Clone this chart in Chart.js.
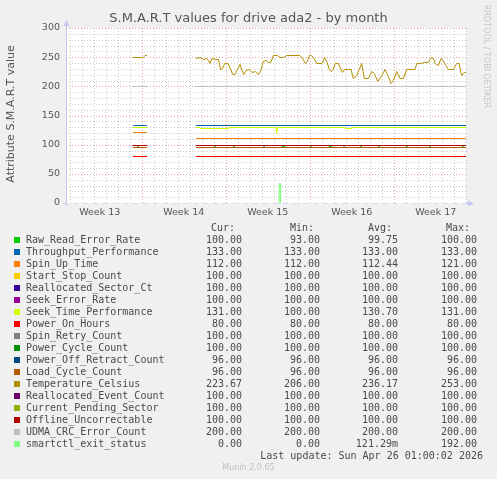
<!DOCTYPE html>
<html>
<head>
<meta charset="utf-8">
<script src="https://cdn.jsdelivr.net/npm/chart.js@4.4.1/dist/chart.umd.min.js"></script>
<style>
  html, body { margin: 0; padding: 0; background: #f0f0f0; }
  #wrap { position: relative; width: 497px; height: 479px; overflow: hidden; font-family: 'DejaVu Sans', sans-serif; }
  #graph { position: absolute; left: 0; top: 0; }
  .title { position: absolute; left: 0; top: 11px; width: 497px; text-align: center; font-size: 13px; line-height: 14px; color: #555; }
  .ytitle { position: absolute; left: -89px; top: 107px; width: 200px; height: 14px; line-height: 14px; text-align: center; font-size: 11px; color: #555; transform: rotate(-90deg); }
  .rrd { position: absolute; left: 482px; top: 5px; writing-mode: vertical-rl; font-size: 8px; line-height: 9px; color: #c8c8c8; white-space: nowrap; }
  .lg { position: absolute; font-family: 'DejaVu Sans Mono', monospace; font-size: 10px; line-height: 12px; height: 12px; color: #4a4a4a; white-space: pre; }
  .sq { position: absolute; width: 6px; height: 6px; }
  .munin { position: absolute; left: 0; width: 497px; top: 463px; text-align: center; font-size: 8px; line-height: 10px; color: #c0c0c0; }
</style>
</head>
<body>
<div id="wrap">
  <canvas id="graph" width="497" height="230"></canvas>
  <div class="title">S.M.A.R.T values for drive ada2 - by month</div>
  <div class="ytitle">Attribute S.M.A.R.T value</div>
  <div class="rrd">RRDTOOL / TOBI OETIKER</div>
  <div id="legend"></div>
  <div class="munin">Munin 2.0.65</div>
</div>
<script>
// x positions are days since Monday of week 13 (Mar 23)
const xMin = 0.69;
const xMax = 34.02;
const weekLabels = ['Week 13', 'Week 14', 'Week 15', 'Week 16', 'Week 17'];
const weekStarts = [0, 7, 14, 21, 28];
const yLabels = [0, 50, 100, 150, 200, 250, 300];

// two stretches with data, gap in between
const segStart = [6.27, 11.52];
const segEnd = [7.44, 34.02];
const gapDay = 9.5;

const names = ['Raw_Read_Error_Rate', 'Throughput_Performance', 'Spin_Up_Time', 'Start_Stop_Count',
  'Reallocated_Sector_Ct', 'Seek_Error_Rate', 'Seek_Time_Performance', 'Power_On_Hours',
  'Spin_Retry_Count', 'Power_Cycle_Count', 'Power_Off_Retract_Count', 'Load_Cycle_Count',
  'Temperature_Celsius', 'Reallocated_Event_Count', 'Current_Pending_Sector', 'Offline_Uncorrectable',
  'UDMA_CRC_Error_Count', 'smartctl_exit_status'];
const colors = ['#00CC00', '#0066B3', '#FF8000', '#FFCC00', '#330099', '#990099', '#CCFF00', '#FF0000',
  '#808080', '#008F00', '#00487D', '#B35A00', '#B38F00', '#6B006B', '#8FB300', '#B30000', '#BEBEBE', '#80FF80'];

const curVals = [100, 133, 112, 100, 100, 100, 131, 80, 100, 100, 96, 96, 223.67, 100, 100, 100, 200, 0];
const minVals = [93, 133, 112, 100, 100, 100, 100, 80, 100, 100, 96, 96, 206, 100, 100, 100, 200, 0];
const avgVals = [99.75, 133, 112.44, 100, 100, 100, 130.70, 80, 100, 100, 96, 96, 236.17, 100, 100, 100, 200, 0.12129];
const maxVals = [100, 133, 121, 100, 100, 100, 131, 80, 100, 100, 96, 96, 253, 100, 100, 100, 200, 192];

// flat series: value in first and second stretch
const throughput = [133, 133];
const spinUp = [121, 112];
const startStop = [100, 100];
const reallocSector = [100, 100];
const seekError = [100, 100];
const powerOn = [80, 80];
const spinRetry = [100, 100];
const powerCycle = [100, 100];
const powerOffRetract = [96, 96];
const loadCycle = [96, 96];
const reallocEvent = [100, 100];
const pendingSector = [100, 100];
const offlineUncorr = [100, 100];
const udmaCrc = [200, 200];

// Raw_Read_Error_Rate sits at 100 with small dips
const rawReadDipDays = [6.69, 13.11, 14.69, 17.19, 18.74, 18.88, 21.11, 22.66, 22.8, 23.86, 25.27, 26.77, 29.1, 31.02, 33.77];
const rawReadDipVals = [97, 97, 97, 97, 97, 97, 97, 97, 97, 97, 97, 97, 97, 97, 97];

const seekDays = [6.27, 7.44, gapDay, 11.52, 11.85, 11.88, 14.25, 14.28, 18.17, 18.25, 18.33, 23.92, 23.95, 24.48, 24.51, 34.02];
const seekVals = [131, 131, null, 131, 131, 128, 128, 131, 131, 120, 131, 131, 128, 128, 131, 131];

const tempDays = [6.27, 6.61, 6.86, 7.11, 7.27, 7.44, gapDay,
  11.52, 11.86, 12.13, 12.42, 12.55, 12.69, 12.86, 13.11, 13.38, 13.58,
  13.72, 13.92, 14.19, 14.42, 14.58, 14.77, 14.97, 15.19, 15.33, 15.50,
  15.69, 15.97, 16.19, 16.47, 16.72, 16.92, 17.13, 17.36, 17.58, 17.75,
  17.97, 18.30, 18.52, 18.80, 19.08, 20.19, 20.41, 20.63, 20.80, 20.97,
  21.13, 21.36, 21.58, 22.02, 22.25, 22.42, 22.63, 22.77, 22.97, 23.11,
  23.38, 23.61, 23.72, 23.88, 24.22, 24.44, 24.63, 24.92, 25.05, 25.33,
  25.55, 25.88, 26.17, 26.38, 26.67, 27.00, 27.27, 27.55, 27.77, 27.97,
  28.25, 28.52, 28.80, 29.08, 29.77, 29.92, 30.33, 30.55, 30.88, 31.11,
  31.30, 31.44, 31.72, 31.94, 32.13, 32.33, 32.55, 32.97, 33.25, 33.44,
  33.66, 33.88, 34.02];
const tempVals = [251, 250, 251, 251, 253, 253, null,
  249, 250, 247, 249, 246, 240, 249, 247, 247, 230,
  231, 240, 240, 229, 221, 222, 230, 239, 230, 222,
  228, 229, 225, 227, 221, 228, 243, 246, 241, 241,
  253, 253, 250, 251, 253, 253, 249, 240, 243, 253,
  253, 249, 240, 240, 250, 243, 230, 226, 230, 240,
  240, 230, 225, 229, 230, 230, 214, 219, 226, 240,
  214, 214, 226, 223, 210, 220, 229, 217, 206, 211,
  226, 214, 215, 229, 229, 240, 240, 242, 242, 250,
  249, 240, 237, 249, 246, 237, 230, 230, 240, 240,
  219, 225, 224];

const smartDays = [0.69, 18.43, 18.45, 18.53, 18.55, 34.02];
const smartVals = [0, 0, 35, 35, 0, 0];

function flat(vals) {
  return [
    { x: segStart[0], y: vals[0] }, { x: segEnd[0], y: vals[0] },
    { x: gapDay, y: null },
    { x: segStart[1], y: vals[1] }, { x: segEnd[1], y: vals[1] }
  ];
}

function pairs(days, vals) {
  return days.map((d, i) => ({ x: d, y: vals[i] }));
}

function withDips(base, dipDays, dipVals) {
  const pts = flat(base);
  dipDays.forEach((d, i) => {
    pts.push({ x: d - 0.09, y: 100 }, { x: d - 0.04, y: dipVals[i] }, { x: d + 0.04, y: dipVals[i] }, { x: d + 0.09, y: 100 });
  });
  return pts.sort((a, b) => a.x - b.x);
}

const seriesData = [
  withDips([100, 100], rawReadDipDays, rawReadDipVals),
  flat(throughput), flat(spinUp), flat(startStop), flat(reallocSector), flat(seekError),
  pairs(seekDays, seekVals),
  flat(powerOn), flat(spinRetry), flat(powerCycle), flat(powerOffRetract), flat(loadCycle),
  pairs(tempDays, tempVals),
  flat(reallocEvent), flat(pendingSector), flat(offlineUncorr), flat(udmaCrc),
  pairs(smartDays, smartVals)
];

const majorGrid = '#e3a3a3';
const minorGrid = '#cccccc';
const axisColor = '#c4c8f2';

const rrdFrame = {
  id: 'rrdFrame',
  beforeDraw(chart) {
    const { ctx, chartArea: a } = chart;
    ctx.save();
    ctx.fillStyle = '#ffffff';
    ctx.fillRect(a.left, a.top, a.right - a.left, a.bottom - a.top);
    ctx.restore();
  },
  beforeDatasetsDraw(chart) {
    const { ctx, chartArea: a, scales } = chart;
    ctx.save();
    ctx.lineWidth = 1;
    ctx.setLineDash([1, 2]);
    // vertical grid: one line a day, red at week starts
    for (let d = Math.ceil(xMin); d <= xMax; d++) {
      const x = Math.round(scales.x.getPixelForValue(d)) + 0.5;
      ctx.strokeStyle = weekStarts.includes(d) ? majorGrid : minorGrid;
      ctx.beginPath();
      ctx.moveTo(x, a.top);
      ctx.lineTo(x, a.bottom);
      ctx.stroke();
    }
    // horizontal grid: every 10, red at labelled values
    for (let v = 10; v <= 300; v += 10) {
      const y = Math.round(scales.y.getPixelForValue(v)) + 0.5;
      ctx.strokeStyle = yLabels.includes(v) ? majorGrid : minorGrid;
      ctx.beginPath();
      ctx.moveTo(a.left, y);
      ctx.lineTo(a.right, y);
      ctx.stroke();
    }
    ctx.restore();
    // snap line points to pixel rows like rrdtool does
    chart.getSortedVisibleDatasetMetas().forEach(meta => {
      meta.data.forEach(p => {
        if (!p.skip && !p._snapped) { p.y = Math.round(p.y) + 0.5; p._snapped = true; }
      });
      if (meta.dataset) meta.dataset._path = undefined;
    });
  },
  afterDatasetsDraw(chart) {
    const { ctx, chartArea: a } = chart;
    const y0 = Math.round(a.bottom) + 0.5;
    const x0 = Math.round(a.left) + 0.5;
    ctx.save();
    ctx.strokeStyle = axisColor;
    ctx.fillStyle = axisColor;
    ctx.lineWidth = 1;
    ctx.beginPath();
    ctx.moveTo(x0, a.top - 3);
    ctx.lineTo(x0, a.bottom + 3);
    ctx.stroke();
    ctx.beginPath();
    ctx.moveTo(a.left - 3, y0);
    ctx.lineTo(a.left, y0);
    ctx.moveTo(a.right, y0);
    ctx.lineTo(a.right + 4, y0);
    ctx.stroke();
    // x axis over the zero line: dashed
    ctx.setLineDash([5, 5]);
    ctx.lineDashOffset = 3;
    ctx.strokeStyle = '#dadaf6';
    ctx.beginPath();
    ctx.moveTo(a.left, y0);
    ctx.lineTo(a.right, y0);
    ctx.stroke();
    ctx.setLineDash([]);
    // arrows
    ctx.beginPath();
    ctx.moveTo(x0, a.top - 8);
    ctx.lineTo(x0 - 3, a.top - 2);
    ctx.lineTo(x0 + 3, a.top - 2);
    ctx.closePath();
    ctx.fill();
    ctx.beginPath();
    ctx.moveTo(a.right + 8, y0);
    ctx.lineTo(a.right + 2, y0 - 3);
    ctx.lineTo(a.right + 2, y0 + 3);
    ctx.closePath();
    ctx.fill();
    ctx.restore();
  }
};

Chart.defaults.font.family = "'DejaVu Sans', sans-serif";
Chart.defaults.font.size = 9.5;
Chart.defaults.color = '#555';

new Chart(document.getElementById('graph'), {
  type: 'line',
  data: {
    datasets: seriesData.map((d, i) => ({
      label: names[i],
      data: d,
      borderColor: colors[i],
      backgroundColor: colors[i],
      borderWidth: 1,
      pointRadius: 0,
      tension: 0,
      spanGaps: false,
      fill: false,
      order: names.length - i
    }))
  },
  options: {
    responsive: false,
    animation: false,
    layout: { padding: { left: 0, right: 31, top: 28, bottom: 7 } },
    plugins: { legend: { display: false }, tooltip: { enabled: false }, title: { display: false } },
    scales: {
      x: {
        type: 'linear',
        min: xMin,
        max: xMax,
        afterFit(s) { s.height = 20; },
        afterBuildTicks(s) {
          s.ticks = weekStarts.map(w => ({ value: w + 3.5 }));
        },
        grid: { display: false, drawTicks: false },
        border: { display: false },
        ticks: {
          autoSkip: false,
          maxRotation: 0,
          padding: 4,
          callback(v) {
            const k = weekStarts.findIndex(w => w + 3.5 === v);
            return k >= 0 ? weekLabels[k] : '';
          }
        }
      },
      y: {
        min: 0,
        max: 300,
        afterFit(s) { s.width = 66; },
        afterBuildTicks(s) {
          s.ticks = yLabels.map(v => ({ value: v }));
        },
        grid: { display: false, drawTicks: false },
        border: { display: false },
        ticks: { autoSkip: false, padding: 6 }
      }
    }
  },
  plugins: [rrdFrame]
});

// text legend below the graph, munin style
const legend = document.getElementById('legend');
function put(text, left, right, centerY) {
  const el = document.createElement('div');
  el.className = 'lg';
  el.textContent = text;
  if (left !== null) el.style.left = left + 'px';
  if (right !== null) el.style.right = (497 - right) + 'px';
  el.style.top = (centerY - 6) + 'px';
  legend.appendChild(el);
}
function fmt(v) {
  if (v !== 0 && Math.abs(v) < 1) return (v * 1000).toFixed(2) + 'm';
  return v.toFixed(2);
}
const colRight = [242, 320, 398, 477];
const headRight = [235, 314, 392, 470];
['Cur:', 'Min:', 'Avg:', 'Max:'].forEach((h, k) => put(h, null, headRight[k], 228));
names.forEach((n, i) => {
  const cy = 239.5 + 12 * i;
  const sq = document.createElement('div');
  sq.className = 'sq';
  sq.style.left = '14px';
  sq.style.top = (cy - 3) + 'px';
  sq.style.background = colors[i];
  legend.appendChild(sq);
  put(n, 26, null, cy);
  [curVals, minVals, avgVals, maxVals].forEach((arr, k) => put(fmt(arr[i]), null, colRight[k], cy));
});
put('Last update: Sun Apr 26 01:00:02 2026', null, 483, 455.5);
</script>
</body>
</html>
